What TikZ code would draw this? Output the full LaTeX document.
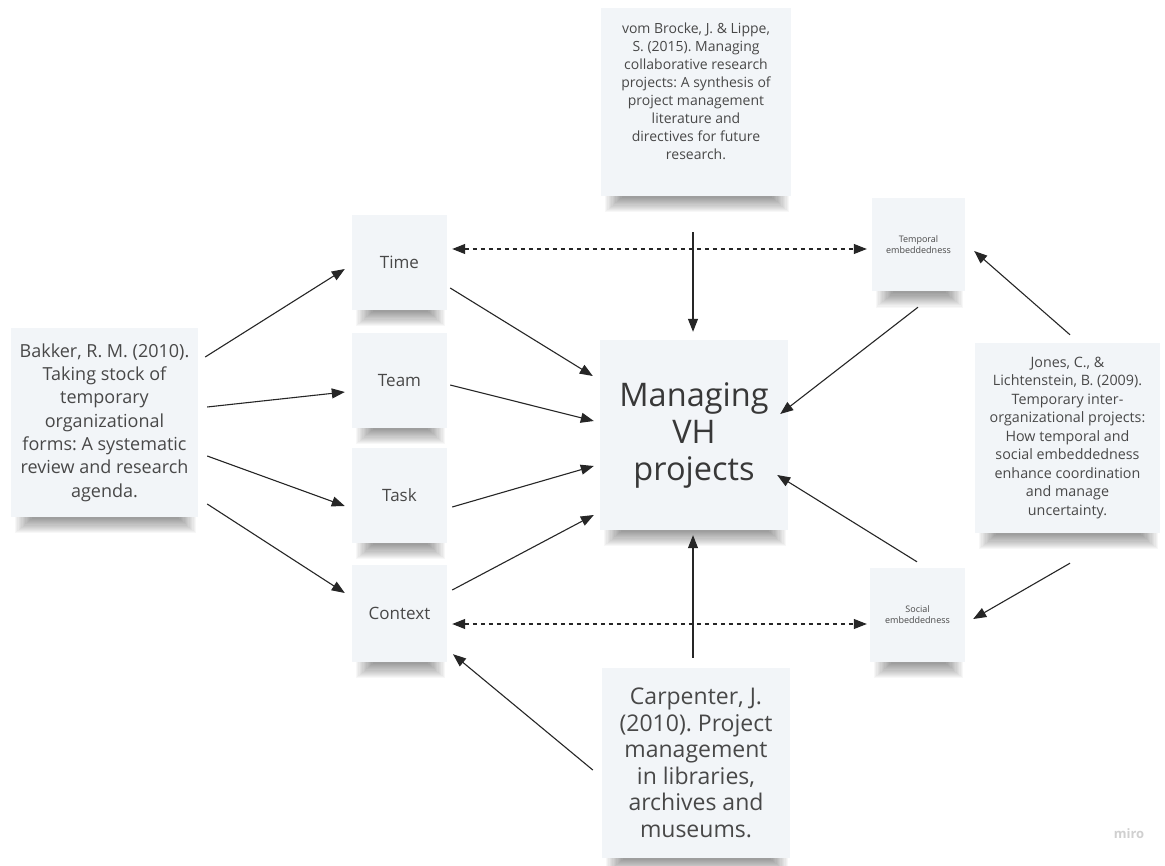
\documentclass[tikz,border=0pt]{standalone}
\usepackage{fontspec}
\setmainfont{Open Sans}
\usetikzlibrary{arrows.meta,calc,backgrounds}

\definecolor{notefill}{RGB}{242,245,248}
\definecolor{notetext}{RGB}{72,72,72}
\definecolor{linkcol}{RGB}{38,38,38}
\definecolor{logogray}{RGB}{208,208,208}

% soft drop shadow under a sticky note
\newcommand{\noteshadow}[1]{%
  \foreach \k in {0,...,13}{%
    \fill[black,opacity=0.03]
      ($(#1.south west)+(4+1.3*\k,-10)$) rectangle ($(#1.south east)+(-2-1.3*\k,16-1.1*\k)$);
  }%
}

\begin{document}
\frenchspacing
\begin{tikzpicture}[x=1pt,y=-1pt,
  note/.style={rectangle, fill=notefill, text=notetext, align=center, inner sep=0pt},
  link/.style={draw=linkcol, line width=1.1pt, -{Triangle[length=13pt,width=10pt]}},
  duallink/.style={draw=linkcol, line width=1.1pt, dash pattern=on 4pt off 4pt,
    {Triangle[length=13pt,width=10pt]}-{Triangle[length=13pt,width=10pt]}},
]
\useasboundingbox (0,0) rectangle (1165,866);

% ---- notes ----
\node[note, minimum width=190pt, minimum height=188pt] (brocke) at (696,102) {};
\node[text=notetext, align=center, inner sep=0pt,
      font=\fontsize{14}{18}\selectfont] (brocketext) at ($(brocke.center)+(0,-11)$)
  {vom Brocke, J. \& Lippe,\\S. (2015). Managing\\collaborative research\\projects: A synthesis of\\project management\\literature and\\directives for future\\research.};

\node[note, minimum width=187pt, minimum height=189pt,
      font=\fontsize{18}{23.3}\selectfont] (bakker) at (104.5,422.5)
  {Bakker, R. M. (2010).\\Taking stock of\\temporary\\organizational\\forms: A systematic\\review and research\\agenda.};

\node[note, minimum width=95pt, minimum height=95pt,
      font=\fontsize{17}{20}\selectfont] (time) at (399.5,262.5) {Time};
\node[note, minimum width=95pt, minimum height=95pt,
      font=\fontsize{17}{20}\selectfont] (team) at (399.5,380.5) {Team};
\node[note, minimum width=95pt, minimum height=95pt,
      font=\fontsize{17}{20}\selectfont] (task) at (399.5,495.5) {Task};
\node[note, minimum width=95pt, minimum height=97pt,
      font=\fontsize{17}{20}\selectfont] (context) at (399.5,613.5) {Context};

\node[note, minimum width=188pt, minimum height=190pt, text=black!78,
      font=\fontsize{32.5}{37}\selectfont] (vh) at (694,435)
  {Managing\\VH\\projects};

\node[note, minimum width=188pt, minimum height=190pt,
      font=\fontsize{23}{26.5}\selectfont] (carpenter) at (696,763)
  {Carpenter, J.\\(2010). Project\\management\\in libraries,\\archives and\\museums.};

\node[note, minimum width=93pt, minimum height=93pt,
      font=\fontsize{9}{11}\selectfont] (temporal) at (918.5,245)
  {Temporal\\embeddedness};
\node[note, minimum width=95pt, minimum height=94pt,
      font=\fontsize{9}{11}\selectfont] (social) at (917.5,615)
  {Social\\embeddedness};

\node[note, minimum width=185pt, minimum height=190pt,
      font=\fontsize{14.3}{18.5}\selectfont] (jones) at (1067.5,438)
  {Jones, C., \&\\Lichtenstein, B. (2009).\\Temporary inter-\\organizational projects:\\How temporal and\\social embeddedness\\enhance coordination\\and manage\\uncertainty.};

\node[text=logogray, font=\fontsize{13}{13}\selectfont\bfseries] (logo) at (1129,834) {miro};

% ---- background and shadows ----
\begin{scope}[on background layer]
  \fill[white] (0,0) rectangle (1165,866);
  \foreach \n in {brocke,bakker,time,team,task,context,vh,carpenter,temporal,social,jones}{%
    \noteshadow{\n}
  }
\end{scope}

% ---- connectors ----
\draw[link] ($(bakker.east)+(7,-65.5)$) -- ($(time.west)+(-7,6.5)$);
\draw[link] ($(bakker.east)+(9,-15.5)$) -- ($(team.west)+(-7,11.5)$);
\draw[link] ($(bakker.east)+(9,33.5)$) -- ($(task.west)+(-7,10.5)$);
\draw[link] ($(bakker.east)+(9,81.5)$) -- ($(context.west)+(-7,-20.5)$);

\draw[link] ($(time.east)+(3,25.5)$) -- ($(vh.west)+(-7,-59)$);
\draw[link] ($(team.east)+(3,4.5)$) -- ($(vh.west)+(-6,-14)$);
\draw[link] ($(task.east)+(5,11.5)$) -- ($(vh.west)+(-6,31)$);
\draw[link] ($(context.east)+(5,-23.5)$) -- ($(vh.west)+(-6,80)$);

\draw[duallink] ($(time.east)+(5,-13.5)$) -- ($(temporal.west)+(-5,4)$);
\draw[duallink] ($(context.east)+(5,10.5)$) -- ($(social.west)+(-3,9)$);

\draw[link] ($(brocke.south)+(-3,36)$) -- ($(vh.north)+(-1,-8)$);
\draw[link] ($(carpenter.north)+(-3,-10)$) -- ($(vh.south)+(-1,5)$);
\draw[link] ($(carpenter.west)+(-9,7)$) -- ($(context.south)+(53.5,-8)$);

\draw[link] ($(temporal.south)+(-0.5,15.5)$) -- ($(vh.east)+(-8,-21)$);
\draw[link] ($(social.north)+(-0.5,-6)$) -- ($(vh.east)+(-11,40)$);
\draw[link] ($(jones.north)+(2.5,-8)$) -- ($(temporal.east)+(9,6)$);
\draw[link] ($(jones.south)+(2.5,30)$) -- ($(social.east)+(8,4)$);
\end{tikzpicture}
\end{document}
